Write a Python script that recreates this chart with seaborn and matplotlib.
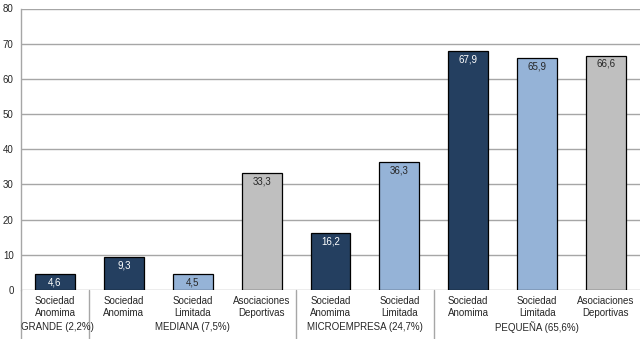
import matplotlib
matplotlib.use("Agg")
import matplotlib.pyplot as plt
import matplotlib.transforms as mtransforms
import seaborn as sns
import pandas as pd

# --- data ---
categorias = ["Sociedad\nAnomima", "Sociedad\nAnomima", "Sociedad\nLimitada", "Asociaciones\nDeportivas",
              "Sociedad\nAnomima", "Sociedad\nLimitada",
              "Sociedad\nAnomima", "Sociedad\nLimitada", "Asociaciones\nDeportivas"]
tipos = ["SA", "SA", "SL", "AD", "SA", "SL", "SA", "SL", "AD"]
valores = [4.6, 9.3, 4.5, 33.3, 16.2, 36.3, 67.9, 65.9, 66.6]
grupos = ["GRANDE (2,2%)", "MEDIANA (7,5%)", "MICROEMPRESA (24,7%)", "PEQUEÑA (65,6%)"]
grupo_tamanos = [1, 3, 2, 3]
y_ticks = [0, 10, 20, 30, 40, 50, 60, 70, 80]

colores = {"SA": "#243F60", "SL": "#95B3D7", "AD": "#BFBFBF"}
color_texto = {"SA": "white", "SL": "#262626", "AD": "#262626"}

df = pd.DataFrame({"pos": [str(i) for i in range(len(valores))],
                   "valor": valores, "tipo": tipos})

sns.set_style("white")
plt.rcParams["font.family"] = ["Liberation Sans", "DejaVu Sans"]

fig = plt.figure(figsize=(6.42, 3.39), dpi=100)
ax = fig.add_axes([20.6 / 642, 49 / 339, (640.4 - 20.6) / 642, (290 - 8.5) / 339])

sns.barplot(data=df, x="pos", y="valor", hue="tipo", palette=colores, dodge=False,
            saturation=1, width=0.58, edgecolor="black", linewidth=0.9, legend=False,
            ax=ax, zorder=3)

ax.set_ylim(0, 80)
ax.set_xlim(-0.5, len(valores) - 0.5)
ax.set_yticks(y_ticks)
ax.set_yticklabels([str(t) for t in y_ticks], fontsize=7, color="#262626")
ax.tick_params(axis="y", length=0, pad=5)
ax.tick_params(axis="x", length=0, pad=4)
ax.set_xticks(range(len(categorias)))
ax.set_xticklabels(categorias, fontsize=7, color="#262626", linespacing=1.35)
ax.set_xlabel("")
ax.set_ylabel("")
ax.yaxis.grid(True, color="#A6A6A6", linewidth=1.0, zorder=0)
ax.set_axisbelow(True)
for s in ["top", "right", "bottom"]:
    ax.spines[s].set_visible(False)
ax.spines["left"].set_color("#A6A6A6")
ax.spines["left"].set_linewidth(1.0)

# value labels
for i, (v, t) in enumerate(zip(valores, tipos)):
    ax.annotate(f"{v:.1f}".replace(".", ","), xy=(i, v), xytext=(0, -6),
                textcoords="offset points", ha="center", va="center",
                fontsize=7, color=color_texto[t], zorder=5)

# group labels and separators
trans = mtransforms.blended_transform_factory(ax.transData, ax.transAxes)
bottom_ax = -49 / (290 - 8.5)
start = 0
bounds = [-0.5]
for n in grupo_tamanos:
    bounds.append(start + n - 0.5)
    start += n
for k, g in enumerate(grupos):
    left, right = bounds[k], bounds[k + 1]
    if k == 0:
        ax.text(left, -37 / 281.5, g, transform=trans, ha="left", va="center",
                fontsize=7, color="#262626")
    else:
        ax.text((left + right) / 2, -37 / 281.5, g, transform=trans, ha="center",
                va="center", fontsize=7, color="#262626")
for b in bounds[:-1]:
    ax.plot([b, b], [0, bottom_ax], transform=trans, color="#A6A6A6", linewidth=1.0,
            clip_on=False)

fig.savefig("out.png", dpi=100)
